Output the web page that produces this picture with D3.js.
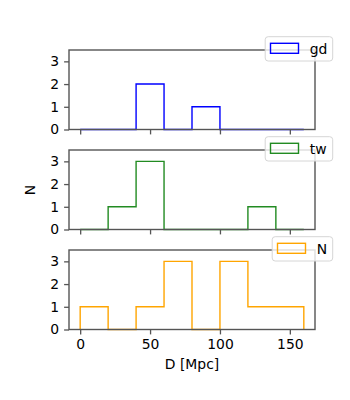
<!DOCTYPE html>
<html>
<head>
<meta charset="utf-8">
<script src="https://cdn.jsdelivr.net/npm/d3@7"></script>
<style>
  body { margin: 0; background: #fff; }
  text { font-family: "DejaVu Sans", sans-serif; }
</style>
</head>
<body>
<div id="chart"></div>
<script>
// bin edges in Mpc, counts per bin for each sample
const binEdges = [0, 20, 40, 60, 80, 100, 120, 140, 160];
const gdCounts = [0, 0, 2, 0, 1, 0, 0, 0];
const twCounts = [0, 1, 3, 0, 0, 0, 1, 0];
const nCounts  = [1, 0, 1, 3, 0, 3, 1, 1];
const seriesNames = ['gd', 'tw', 'N'];
const seriesColors = ['#0000ff', '#228b22', '#ffa500'];
const xTicks = [0, 50, 100, 150];
const yTicks = [0, 1, 2, 3];

const width = 350, height = 400;
const left = 69, right = 315;
const panelTops = [50, 150, 250];
const panelH = 79.5;
const fs = 13.9;

const svg = d3.select('#chart').append('svg')
  .attr('width', width)
  .attr('height', height);

const x = d3.scaleLinear().domain([-8, 168]).range([left, right]);

const allCounts = [gdCounts, twCounts, nCounts];

allCounts.forEach((counts, k) => {
  const top = panelTops[k];
  const y = d3.scaleLinear().domain([0, 3.5]).range([top + panelH, top]);
  const g = svg.append('g');

  // step outline of the histogram
  const pts = [[binEdges[0], 0]];
  counts.forEach((c, i) => {
    pts.push([binEdges[i], c]);
    pts.push([binEdges[i + 1], c]);
  });
  pts.push([binEdges[binEdges.length - 1], 0]);
  g.append('path')
    .attr('d', d3.line().x(d => x(d[0])).y(d => y(d[1]))(pts))
    .attr('fill', 'none')
    .attr('stroke', seriesColors[k])
    .attr('stroke-width', 1.4);

  // axes
  const xAxis = d3.axisBottom(x).tickValues(xTicks).tickSize(4.9).tickPadding(4.9);
  if (k < 2) xAxis.tickFormat('');
  const gx = g.append('g')
    .attr('transform', `translate(0,${top + panelH})`)
    .call(xAxis);
  const gy = g.append('g')
    .attr('transform', `translate(${left},0)`)
    .call(d3.axisLeft(y).tickValues(yTicks).tickFormat(d3.format('d'))
      .tickSize(4.9).tickPadding(4.9));
  [gx, gy].forEach(a => {
    a.select('.domain').remove();
    a.selectAll('line').attr('stroke', '#555').attr('stroke-width', 1.3);
    a.selectAll('text').attr('font-size', fs).attr('fill', '#000')
      .style('font-family', '"DejaVu Sans", sans-serif');
  });

  // frame
  g.append('rect')
    .attr('x', left).attr('y', top)
    .attr('width', right - left).attr('height', panelH)
    .attr('fill', 'none')
    .attr('stroke', '#555')
    .attr('stroke-width', 1.4);

  // legend
  const name = seriesNames[k];
  const lw = name === 'N' ? 60.5 : 67.5;
  const lx = 332.7 - lw, ly = top - 13.3;
  const leg = g.append('g');
  leg.append('rect')
    .attr('x', lx).attr('y', ly)
    .attr('width', lw).attr('height', 24.3)
    .attr('rx', 3)
    .attr('fill', 'rgba(255,255,255,0.8)')
    .attr('stroke', '#d6d6d6')
    .attr('stroke-width', 1);
  leg.append('rect')
    .attr('x', lx + 5.3).attr('y', ly + 6.6)
    .attr('width', 28).attr('height', 10)
    .attr('fill', 'none')
    .attr('stroke', seriesColors[k])
    .attr('stroke-width', 1.4);
  leg.append('text')
    .attr('x', lx + 44.5).attr('y', ly + 17)
    .attr('font-size', fs)
    .text(name);
});

// axis labels
svg.append('text')
  .attr('x', (left + right) / 2).attr('y', 368.5)
  .attr('text-anchor', 'middle')
  .attr('font-size', fs)
  .text('D [Mpc]');

svg.append('text')
  .attr('transform', 'translate(34.5,190) rotate(-90)')
  .attr('text-anchor', 'middle')
  .attr('font-size', fs)
  .text('N');
</script>
</body>
</html>
